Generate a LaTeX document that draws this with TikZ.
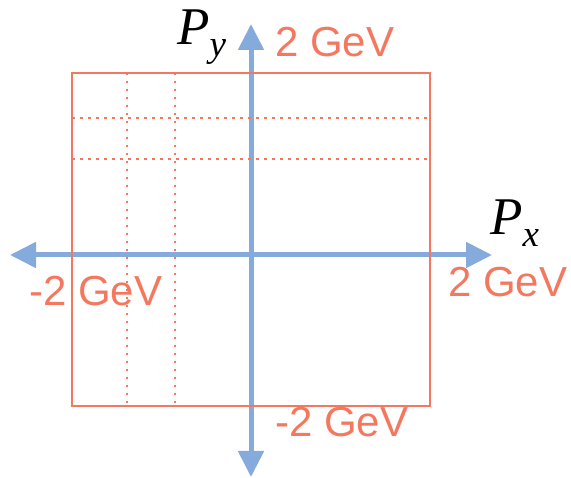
\documentclass[tikz,border=0pt]{standalone}
\usepackage{fontspec}
\setmainfont{Liberation Sans}
\newfontfamily\serifit{Liberation Serif}
\usetikzlibrary{arrows.meta}
\definecolor{axisblue}{HTML}{85ABDC}
\definecolor{boxred}{HTML}{F4785F}
\tikzset{
  axisline/.style={draw=axisblue,line width=5pt,-{Triangle[length=26pt,width=25pt]}},
  boxline/.style={draw=boxred,line width=2pt},
  dotline/.style={draw=boxred,line width=2.5pt,dash pattern=on 2.5pt off 5.5pt},
  gevlabel/.style={text=boxred,font=\fontsize{42}{42}\selectfont,inner sep=0pt,anchor=base west},
  axlabel/.style={inner sep=0pt,anchor=base west,font=\serifit\itshape\fontsize{53}{53}\selectfont},
}
\begin{document}
\begin{tikzpicture}[x=1pt,y=-1pt]
\useasboundingbox (0,0) rectangle (571,478);
\coordinate (xl) at (10,255);
\coordinate (xr) at (492,255);
\coordinate (yt) at (251,24);
\coordinate (yb) at (251,477);
\coordinate (o) at (251,255);
\draw[axisline] (o) -- (xl);
\draw[axisline] (o) -- (xr);
\draw[axisline] (o) -- (yt);
\draw[axisline] (o) -- (yb);
\draw[dotline] (127,73) -- (127,406);
\draw[dotline] (175,73) -- (175,406);
\draw[dotline] (72,118) -- (430,118);
\draw[dotline] (72,159) -- (430,159);
\draw[boxline] (72,73) rectangle (430,406);
\node[gevlabel] (ytop) at (275,57) {2 GeV};
\node[gevlabel] (xright) at (448,297) {2 GeV};
\node[gevlabel] (xleft) at (29,306) {-2 GeV};
\node[gevlabel] (ybot) at (275,437) {-2 GeV};
\node[axlabel] (py) at (177,45) {P\raisebox{-12pt}{\fontsize{37}{37}\selectfont y}};
\node[axlabel] (px) at (490,235) {P\raisebox{-12pt}{\fontsize{37}{37}\selectfont x}};
\end{tikzpicture}
\end{document}
